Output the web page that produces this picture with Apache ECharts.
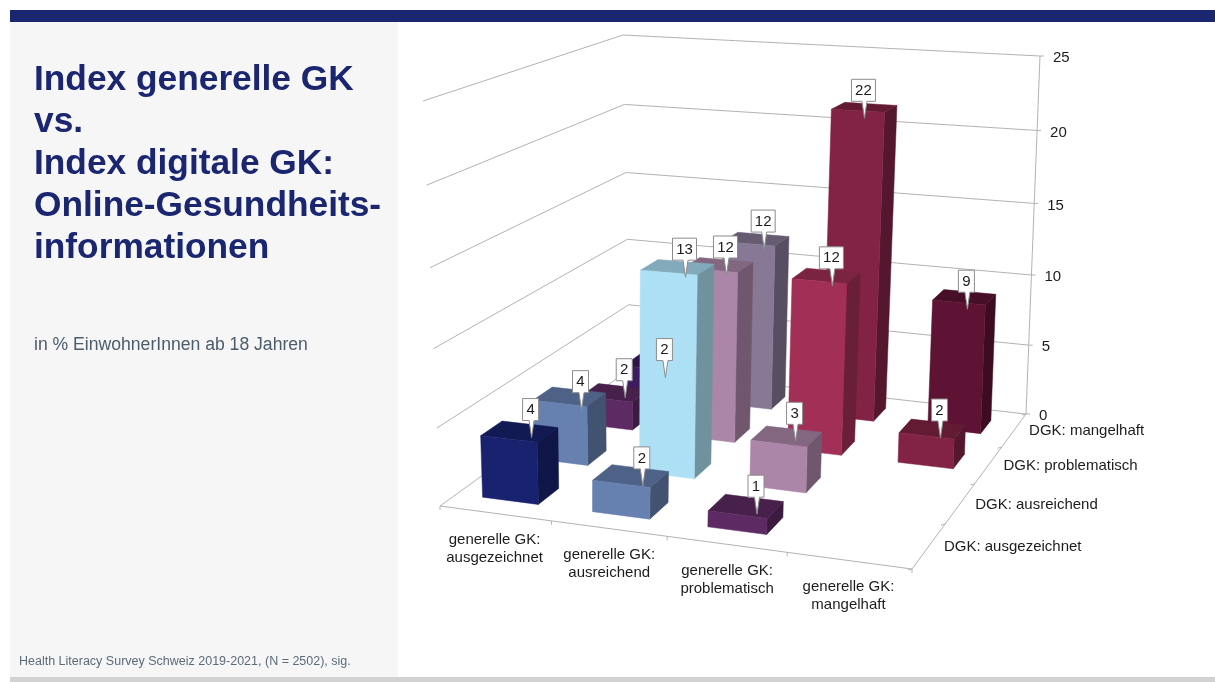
<!DOCTYPE html>
<html><head><meta charset="utf-8">
<style>html,body{margin:0;padding:0;background:#fff}#c{width:1215px;height:682px}</style>
<script src="https://cdn.jsdelivr.net/npm/echarts@6/dist/echarts.min.js"></script>
</head><body><div id="c"></div>
<script>
const generalGK = ['generelle GK:\nausgezeichnet','generelle GK:\nausreichend','generelle GK:\nproblematisch','generelle GK:\nmangelhaft'];
const digitalGK = ['DGK: ausgezeichnet','DGK: ausreichend','DGK: problematisch','DGK: mangelhaft'];
const valueTicks = [0,5,10,15,20,25];
const dgkAusgezeichnet = [4,2,1,null];
const dgkAusreichend = [4,13.3,3,null];
const dgkProblematisch = [2,11.7,11.6,2];
const dgkMangelhaft = [2,11.8,21.5,9];
const rows = [dgkAusgezeichnet,dgkAusreichend,dgkProblematisch,dgkMangelhaft];
const colorsAusgezeichnet = ['#18226e','#6680b0','#5e2a63',null];
const colorsAusreichend = ['#6680b0','#ade0f5','#ac86a8',null];
const colorsProblematisch = ['#5e2a63','#ac86a8','#a23056','#822345'];
const colorsMangelhaft = ['#3e1a60','#877896','#822345','#5e1335'];
const rowColors = [colorsAusgezeichnet,colorsAusreichend,colorsProblematisch,colorsMangelhaft];

// the camera of the 3D box: floor and top corners on the page (front-left, front-right, back-right, back-left)
const floorQuad = [[440,506],[912,569],[1026,414],[630,369]];
const topQuad = [[423,101],[923,124],[1040,56],[623,35]];
const PERSP = 1.05, BAR_W = 0.5, BAR_D = 0.40, BAR_WARP = 0.04, TICK_WARP = 0.018;
// hand-placed callouts in the slide: page-pixel nudges, keyed "column,row"
const calloutNudge = {'0,0':[4,-3],'0,1':[4,4],'0,2':[2,-4],'0,3':[1,6],'1,0':[4,1],'1,1':[0,1],'1,2':[0,1],'1,3':[0,1],
  '2,0':[3,-1],'2,1':[1,-4],'2,2':[-2,1],'2,3':[-8,2],'3,2':[0,0],'3,3':[-5,3]};

function quadMap(q){
  const [p0,p1,p2,p3]=q;
  const dx1=p1[0]-p2[0],dx2=p3[0]-p2[0],sx=p0[0]-p1[0]+p2[0]-p3[0];
  const dy1=p1[1]-p2[1],dy2=p3[1]-p2[1],sy=p0[1]-p1[1]+p2[1]-p3[1];
  const den=dx1*dy2-dx2*dy1;
  const g=(sx*dy2-dx2*sy)/den,h=(dx1*sy-sx*dy1)/den;
  const a=p1[0]-p0[0]+g*p1[0],b=p3[0]-p0[0]+h*p3[0],c=p0[0];
  const d=p1[1]-p0[1]+g*p1[1],e=p3[1]-p0[1]+h*p3[1],f=p0[1];
  return (u,v)=>{const w=g*u+h*v+1;return [(a*u+b*v+c)/w,(d*u+e*v+f)/w];};
}
const floorAt=quadMap(floorQuad), topAt=quadMap(topQuad);
function project(u,v,s){
  const t=s/(s+(1-s)*PERSP);
  const F=floorAt(u,v),T=topAt(u,v);
  return [F[0]+(T[0]-F[0])*t,F[1]+(T[1]-F[1])*t];
}
const warp=(u,c)=>u-c*u*(1-u);
function shade(hex,k){
  const n=parseInt(hex.slice(1),16);
  const c=[n>>16&255,n>>8&255,n&255].map(x=>Math.round(x*k));
  return 'rgb('+c.join(',')+')';
}
// reads the axis scales: returns category fraction and height fraction
function scaled(api,params,col,val){
  const g=params.coordSys, p=api.coord([col,val]);
  return {u:(p[0]-g.x)/g.width, s:(g.y+g.height-p[1])/g.height};
}
const LINE='#b3b3b3', TXT='#1c1c1c', FONT='"Liberation Sans",Arial,sans-serif';
const line=(a,b,c)=>({type:'line',shape:{x1:a[0],y1:a[1],x2:b[0],y2:b[1]},style:{stroke:c||LINE,lineWidth:1},silent:true});
const poly=(pts,fill)=>({type:'polygon',shape:{points:pts},style:{fill:fill,stroke:fill,lineWidth:0.5},silent:true});
const txt=(x,y,t,align,size)=>({type:'text',x:x,y:y,style:{text:t,fill:TXT,font:(size||15)+'px '+FONT,align:align||'center',verticalAlign:'middle',lineHeight:18},silent:true});

function renderValueGrid(params,api){
  const v=api.value(0), s=scaled(api,params,0,v).s;
  const fl=project(0,0,s),bl=project(0,1,s),br=project(1,1,s);
  return {type:'group',children:[line(fl,bl),line(bl,br),line(br,[br[0]+4,br[1]]),txt(br[0]+13,br[1]+2,String(v),'left')]};
}
function renderFloor(params,api){
  const fl=project(0,0,0),fr=project(1,0,0),br=project(1,1,0),top=project(1,1,1);
  const kids=[line(fl,fr),line(fr,br),line(br,top)];
  for(let i=0;i<=4;i++){
    const a=project(warp(i/4,TICK_WARP),0,0);kids.push(line(a,[a[0],a[1]+4]));
    const b=project(1,i/4,0);kids.push(line(b,[b[0]-4,b[1]+1]));
  }
  return {type:'group',children:kids};
}
function renderXLabel(params,api){
  const i=api.value(0), u=scaled(api,params,i,0).u, p=project(u,0,0);
  return txt(p[0]-1.5,p[1]+35,generalGK[i]);
}
function renderDepthLabel(params,api){
  const i=api.value(0), p=project(1,(i+0.5)/4,0);
  return txt(p[0]+15,p[1]+1,digitalGK[i],'left');
}
function renderBar(params,api){
  const col=api.value(0),row=api.value(1),val=api.value(2);
  const c=rowColors[row][col];
  const a=scaled(api,params,col,val), uc=warp(a.u,BAR_WARP);
  const v=(row+0.5)/4,u0=uc-BAR_W/8,u1=uc+BAR_W/8,v0=v-BAR_D/8,v1=v+BAR_D/8,s=a.s;
  const P=(u,w,h)=>project(u,w,h);
  return {type:'group',children:[
    poly([P(u1,v0,0),P(u1,v1,0),P(u1,v1,s),P(u1,v0,s)],shade(c,0.65)),
    poly([P(u0,v0,s),P(u1,v0,s),P(u1,v1,s),P(u0,v1,s)],shade(c,0.76)),
    poly([P(u0,v0,0),P(u1,v0,0),P(u1,v0,s),P(u0,v0,s)],c)
  ]};
}
function renderCallout(params,api){
  const col=api.value(0),row=api.value(1),val=api.value(2);
  const a=scaled(api,params,col,val), t0=project(warp(a.u,BAR_WARP),(row+0.5)/4,a.s);
  const nudge=calloutNudge[col+','+row]||[0,0];
  const tip=[t0[0]+8+nudge[0],t0[1]+9+nudge[1]], label=String(Math.round(val));
  const w=label.length>1?24:16,h=22,cx=tip[0]-1,b=tip[1]-17,l=cx-w/2,r=cx+w/2,y=b-h;
  return {type:'group',children:[
    {type:'polygon',shape:{points:[[l,y],[r,y],[r,b],[tip[0]+2.5,b],tip,[tip[0]-2.5,b],[l,b]]},style:{fill:'#fff',stroke:'#8c8c8c',lineWidth:1},silent:true},
    txt(cx,y+h/2+0.5,label,'center',15)
  ]};
}
const barData=[];
for(let r=3;r>=0;r--) for(let c=0;c<4;c++) if(rows[r][c]!=null) barData.push([c,r,rows[r][c]]);
const base={type:'custom',coordinateSystem:'cartesian2d',animation:false,silent:true,xAxisIndex:0,yAxisIndex:0};
const ord=a=>a.map((_,i)=>[i]);
const chart=echarts.init(document.getElementById('c'),null,{renderer:'canvas'});
chart.setOption({
  animation:false,backgroundColor:'#fff',
  grid:{left:0,top:0,width:1000,height:500,show:false,containLabel:false},
  xAxis:{type:'category',data:generalGK,show:false},
  yAxis:{type:'value',min:0,max:25,interval:5,show:false},
  tooltip:{show:false},
  title:[
    {text:'Index generelle GK\nvs.\nIndex digitale GK:\nOnline-Gesundheits-\ninformationen',left:34,top:56,padding:[3,0,0,0],textStyle:{color:'#1a2670',fontFamily:FONT,fontWeight:'bold',fontSize:35.3,lineHeight:42}},
    {text:'in % EinwohnerInnen ab 18 Jahren',left:34,top:336,padding:0,textStyle:{color:'#4b5c6b',fontFamily:FONT,fontWeight:'normal',fontSize:17.6}},
    {text:'Health Literacy Survey Schweiz 2019-2021, (N = 2502), sig.',left:19,top:655,padding:0,textStyle:{color:'#5b6b78',fontFamily:FONT,fontWeight:'normal',fontSize:12.5}}
  ],
  graphic:[
    {type:'rect',z:-10,shape:{x:10,y:22,width:388,height:655},style:{fill:'#f6f6f7'},silent:true},
    {type:'rect',z:-10,shape:{x:10,y:10,width:1205,height:12},style:{fill:'#1a2670'},silent:true},
    {type:'rect',z:-10,shape:{x:10,y:677,width:1205,height:5},style:{fill:'#d2d2d2'},silent:true}
  ],
  series:[
    Object.assign({},base,{name:'grid',z:2,data:valueTicks.map(v=>[v]),encode:{y:0},renderItem:renderValueGrid}),
    Object.assign({},base,{name:'floor',z:2,data:[[0]],renderItem:renderFloor}),
    Object.assign({},base,{name:'generelle GK',z:3,data:ord(generalGK),encode:{x:0},renderItem:renderXLabel}),
    Object.assign({},base,{name:'DGK',z:3,data:ord(digitalGK),renderItem:renderDepthLabel}),
    Object.assign({},base,{name:'bars',z:4,data:barData,encode:{x:0,y:2},renderItem:renderBar}),
    Object.assign({},base,{name:'labels',z:5,data:barData,encode:{x:0,y:2},renderItem:renderCallout})
  ]
});
</script></body></html>
